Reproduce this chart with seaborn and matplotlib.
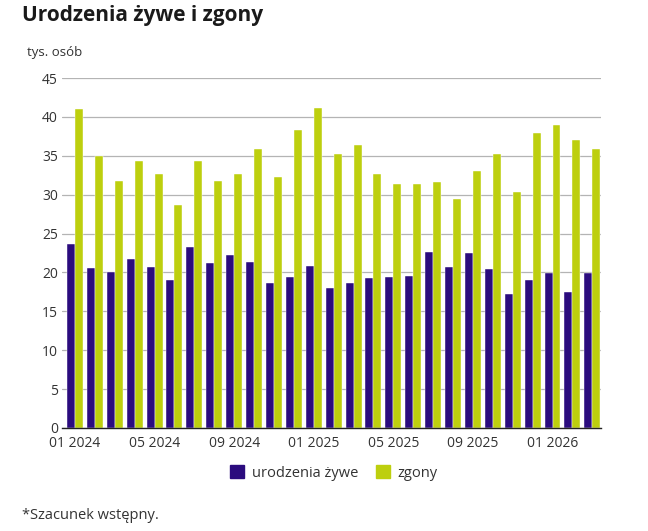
import pandas as pd
import seaborn as sns
from matplotlib import pyplot as plt
from matplotlib.patches import Patch

months = [f"{m:02d} {y}" for y in (2024, 2025, 2026) for m in range(1, 13)][:27]

urodzenia = [23.6, 20.6, 20.1, 21.7, 20.7, 19.0, 23.3, 21.2, 22.2, 21.4, 18.6, 19.4,
             20.8, 18.0, 18.7, 19.3, 19.4, 19.6, 22.6, 20.7, 22.5, 20.5, 17.2, 19.0,
             19.9, 17.5, 19.9]
zgony = [41.0, 35.0, 31.7, 34.3, 32.6, 28.7, 34.3, 31.7, 32.7, 35.9, 32.3, 38.3,
         41.1, 35.2, 36.4, 32.7, 31.4, 31.4, 31.6, 29.4, 33.0, 35.2, 30.3, 37.9,
         39.0, 37.0, 35.9]

SERIES = ["urodzenia żywe", "zgony"]
COLORS = ["#2b0c7e", "#bdcf0e"]

d = pd.DataFrame({"miesiac": months * 2,
                  "wartosc": urodzenia + zgony,
                  "seria": [SERIES[0]] * len(months) + [SERIES[1]] * len(months)})

sns.set_style("white")
plt.rcParams["font.family"] = ["Open Sans", "DejaVu Sans"]

fig = plt.figure(figsize=(6.48, 5.31), dpi=100)
ax = fig.add_axes([0.0957, 0.194, 0.8313, 0.659])

sns.barplot(data=d, x="miesiac", y="wartosc", hue="seria", order=months,
            hue_order=SERIES, palette=COLORS, width=0.8, saturation=1,
            edgecolor="white", linewidth=0.3, legend=False, ax=ax)

ax.set_ylim(0, 45)
ax.set_yticks(range(0, 46, 5))
ax.set_xlim(-0.65, 26.42)
ax.set_xticks(range(0, 27, 4))
ax.set_xticklabels(months[::4])
ax.yaxis.grid(True, color="#b4b4b4", linewidth=0.9)
ax.set_axisbelow(True)
for s in ["top", "right", "left"]:
    ax.spines[s].set_visible(False)
ax.spines["bottom"].set_color("#222222")
ax.spines["bottom"].set_linewidth(1.0)
ax.tick_params(axis="both", length=0, labelsize=10, labelcolor="#333333", pad=3)
ax.tick_params(axis="x", pad=6)
ax.set_xlabel("")
ax.set_ylabel("")

fig.text(0.034, 0.97, "Urodzenia żywe i zgony", fontsize=15, fontweight="bold",
         color="#1a1a1a", va="center", ha="left")
fig.text(0.042, 0.902, "tys. osób", fontsize=9.5, color="#333333", va="center")

handles = [Patch(color=c, label=s) for c, s in zip(COLORS, SERIES)]
fig.legend(handles=handles, loc="center", bbox_to_anchor=(0.515, 0.109), ncol=2,
           frameon=False, fontsize=10.5, handlelength=1.0, handleheight=1.0,
           columnspacing=1.2, handletextpad=0.5, labelcolor="#333333")

fig.text(0.034, 0.03, "*Szacunek wstępny.", fontsize=10.5, color="#333333", va="center")

fig.savefig("out.png", dpi=100)
